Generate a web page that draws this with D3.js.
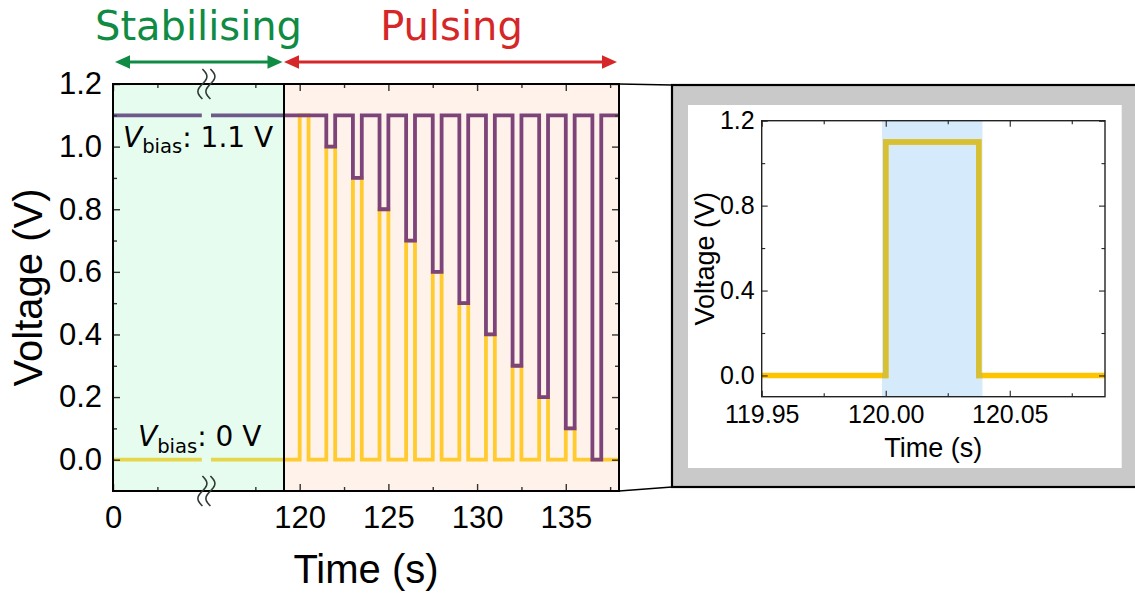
<!DOCTYPE html>
<html><head><meta charset="utf-8">
<script src="https://cdn.jsdelivr.net/npm/d3@7"></script>
<style>body{margin:0;background:#fff} svg{display:block}</style>
</head><body>
<svg id="c" width="1135" height="599"></svg>
<script>
// ---------- data ----------
const pulseStarts = [120.0, 121.5, 123.0, 124.5, 126.0, 127.5, 129.0, 130.5, 132.0, 133.5, 135.0, 136.5];
const pulseAmps   = [1.1, 1.0, 0.9, 0.8, 0.7, 0.6, 0.5, 0.4, 0.3, 0.2, 0.1, 0.0];
const pulseWidth = 0.5;
const biasHigh = 1.1, biasLow = 0.0;
const stabSegments = [[0, 5], [115, 119.115]];
const splitTime = 119.115, endTime = 138;
const xMajorTicks = [0, 120, 125, 130, 135];
const xMinorTicks = [2.5, 117.5, 122.5, 127.5, 132.5, 137.5];
const yMajorTicks = [0, 0.2, 0.4, 0.6, 0.8, 1.0, 1.2];
const yMinorTicks = [0.1, 0.3, 0.5, 0.7, 0.9, 1.1];
// inset
const insetPulse = {start: 120.0, end: 120.0375, amp: 1.1};
const insetSpan = [119.9985, 120.039];
const insetXTicks = [119.95, 120.00, 120.05];
const insetXMinor = [119.975, 120.025, 120.075];
const insetYTicks = [0.0, 0.4, 0.8, 1.2];
const insetYMinor = [0.2, 0.6, 1.0];

// ---------- layout ----------
const svg = d3.select("#c");
const TICKF = "'Liberation Sans', Arial, Helvetica, sans-serif";
const DJV = "'DejaVu Sans', sans-serif";
const x = d3.scaleLinear().domain([0, 5, 115, endTime]).range([113, 201.8, 211, 619]);
const y = d3.scaleLinear().domain([-0.1, 1.2]).range([491, 84]);
const xL = x(0), xS = x(splitTime), xR = x(endTime), yT = y(1.2), yB = y(-0.1);

// backgrounds
svg.append("rect").attr("x", xL).attr("y", yT).attr("width", xS - xL).attr("height", yB - yT).attr("fill", "#e6fcef");
svg.append("rect").attr("x", xS).attr("y", yT).attr("width", xR - xS).attr("height", yB - yT).attr("fill", "#fff2ea");

const line = d3.line().x(d => x(d[0])).y(d => y(d[1])).curve(d3.curveLinear);

// stabilising bias lines (left panel)
stabSegments.forEach(s => {
  svg.append("path").attr("d", line([[s[0], biasLow], [s[1], biasLow]]))
    .attr("stroke", "#e6d64a").attr("stroke-width", 3.8).attr("fill", "none");
  svg.append("path").attr("d", line([[s[0], biasHigh], [s[1], biasHigh]]))
    .attr("stroke", "#6d5a8a").attr("stroke-width", 3.8).attr("fill", "none");
});

// pulsing traces
function trace(base) {
  const pts = [[splitTime, base]];
  pulseStarts.forEach((s, i) => {
    const a = pulseAmps[i];
    pts.push([s, base], [s, a], [s + pulseWidth, a], [s + pulseWidth, base]);
  });
  pts.push([endTime, base]);
  return pts;
}
svg.append("path").attr("d", line(trace(biasLow))).attr("stroke", "#ffcb2f")
  .attr("stroke-width", 3.8).attr("fill", "none").attr("stroke-linejoin", "miter");
svg.append("path").attr("d", line(trace(biasHigh))).attr("stroke", "#7d447a")
  .attr("stroke-width", 3.8).attr("fill", "none").attr("stroke-linejoin", "miter");

// ticks
function noDomain(g) { g.select(".domain").remove(); g.selectAll(".tick line").attr("stroke", "#333").attr("stroke-width", 1.4); }
svg.append("g").attr("transform", `translate(0,${yB})`)
  .call(d3.axisBottom(x).tickValues(xMajorTicks).tickSize(-7).tickPadding(15).tickFormat(d3.format("d")))
  .call(noDomain).call(g => g.selectAll("text").attr("font-size", 31).attr("font-family", TICKF).attr("fill", "#000"));
svg.append("g").attr("transform", `translate(0,${yB})`)
  .call(d3.axisBottom(x).tickValues(xMinorTicks).tickSize(-4).tickFormat(""))
  .call(noDomain);
svg.append("g").attr("transform", `translate(0,${yT})`)
  .call(d3.axisTop(x).tickValues(xMajorTicks).tickSize(-7).tickFormat("")).call(noDomain);
svg.append("g").attr("transform", `translate(0,${yT})`)
  .call(d3.axisTop(x).tickValues(xMinorTicks).tickSize(-4).tickFormat("")).call(noDomain);
svg.append("g").attr("transform", `translate(${xL},0)`)
  .call(d3.axisLeft(y).tickValues(yMajorTicks).tickSize(-7).tickPadding(11).tickFormat(d3.format(".1f")))
  .call(noDomain).call(g => g.selectAll("text").attr("font-size", 31).attr("font-family", TICKF).attr("fill", "#000"));
svg.append("g").attr("transform", `translate(${xL},0)`)
  .call(d3.axisLeft(y).tickValues(yMinorTicks).tickSize(-4).tickFormat("")).call(noDomain);
svg.append("g").attr("transform", `translate(${xR},0)`)
  .call(d3.axisRight(y).tickValues(yMajorTicks).tickSize(-7).tickFormat("")).call(noDomain);
svg.append("g").attr("transform", `translate(${xR},0)`)
  .call(d3.axisRight(y).tickValues(yMinorTicks).tickSize(-4).tickFormat("")).call(noDomain);

// frames
svg.append("rect").attr("x", xL).attr("y", yT).attr("width", xS - xL).attr("height", yB - yT)
  .attr("fill", "none").attr("stroke", "#000").attr("stroke-width", 2);
svg.append("rect").attr("x", xS).attr("y", yT).attr("width", xR - xS).attr("height", yB - yT)
  .attr("fill", "none").attr("stroke", "#000").attr("stroke-width", 2);

// break marks
const gapMid = (x(5) + x(115)) / 2;
function breakMark(cy) {
  [-4, 4].forEach(off => {
    const pts = d3.range(0, 1.0001, 0.05).map(t => [gapMid + off + 4.5 * Math.sin(2 * Math.PI * t), cy - 15 + 30 * t]);
    // white mask between
    svg.append("path").attr("d", d3.line()(pts)).attr("fill", "none")
      .attr("stroke", "#2f3b36").attr("stroke-width", 1.6);
  });
}
breakMark(yT);
breakMark(yB);

// axis labels
svg.append("text").attr("x", (xL + xR) / 2).attr("y", 583).attr("text-anchor", "middle")
  .attr("font-family", TICKF).attr("font-size", 40).text("Time (s)");
svg.append("text").attr("transform", `translate(42,${(yT + yB) / 2}) rotate(-90)`).attr("text-anchor", "middle")
  .attr("font-family", TICKF).attr("font-size", 40).text("Voltage (V)");

// V_bias labels
function biasLabel(px, py, val) {
  const t = svg.append("text").attr("x", px).attr("y", py).attr("font-family", DJV).attr("font-size", 28).attr("fill", "#000");
  t.append("tspan").attr("font-style", "italic").text("V");
  t.append("tspan").attr("font-size", 19.6).attr("dy", 6.5).text("bias");
  t.append("tspan").attr("dy", -6.5).text(": " + val + " V");
}
biasLabel(xL + 10, 146.7, "1.1");
biasLabel(xL + 25, 446, "0");

// phase headings + arrows
function dblArrow(x0, x1, yy, color) {
  const L = 15, H = 6.8;
  svg.append("line").attr("x1", x0 + L - 2).attr("x2", x1 - L + 2).attr("y1", yy).attr("y2", yy)
    .attr("stroke", color).attr("stroke-width", 3);
  svg.append("path").attr("d", `M${x0},${yy} L${x0 + L},${yy - H} L${x0 + L},${yy + H} Z`).attr("fill", color);
  svg.append("path").attr("d", `M${x1},${yy} L${x1 - L},${yy - H} L${x1 - L},${yy + H} Z`).attr("fill", color);
}
dblArrow(xL + 2, xS - 1.5, 62, "#0f8b44");
dblArrow(xS + 0, xR - 2, 62, "#d62728");
svg.append("text").attr("x", (xL + xS) / 2).attr("y", 40).attr("text-anchor", "middle")
  .attr("font-family", DJV).attr("font-size", 40).attr("fill", "#0f8b44").text("Stabilising");
svg.append("text").attr("x", (xS + xR) / 2).attr("y", 40).attr("text-anchor", "middle")
  .attr("font-family", DJV).attr("font-size", 40).attr("fill", "#d62728").text("Pulsing");

// ---------- inset ----------
const boxL = 672, boxT = 85, boxB = 487;
svg.append("line").attr("x1", xR).attr("y1", yT).attr("x2", boxL).attr("y2", boxT).attr("stroke", "#000").attr("stroke-width", 1.5);
svg.append("line").attr("x1", xR).attr("y1", yB).attr("x2", boxL).attr("y2", boxB).attr("stroke", "#000").attr("stroke-width", 1.5);
svg.append("rect").attr("x", boxL).attr("y", boxT).attr("width", 500).attr("height", boxB - boxT)
  .attr("fill", "#c9c9c9").attr("stroke", "#000").attr("stroke-width", 2.2);
svg.append("rect").attr("x", 688).attr("y", 105).attr("width", 1121.7 - 688).attr("height", 468 - 105).attr("fill", "#fff");

const xi = d3.scaleLinear().domain([119.95, 120.0884]).range([761.7, 1105]);
const yi = d3.scaleLinear().domain([-0.1, 1.2]).range([396.7, 120.7]);
const xiL = xi.range()[0], xiR = xi.range()[1], yiT = yi.range()[1], yiB = yi.range()[0];

svg.append("rect").attr("x", xi(insetSpan[0])).attr("y", yiT).attr("width", xi(insetSpan[1]) - xi(insetSpan[0]))
  .attr("height", yiB - yiT).attr("fill", "#d5eafb");
svg.append("clipPath").attr("id", "spanclip").append("rect")
  .attr("x", xi(insetSpan[0])).attr("y", yiT).attr("width", xi(insetSpan[1]) - xi(insetSpan[0])).attr("height", yiB - yiT);
svg.append("clipPath").attr("id", "iclip").append("rect")
  .attr("x", xiL).attr("y", yiT).attr("width", xiR - xiL).attr("height", yiB - yiT);
const iline = d3.line().x(d => xi(d[0])).y(d => yi(d[1]));
const ipts = [[xi.domain()[0], 0], [insetPulse.start, 0], [insetPulse.start, insetPulse.amp],
  [insetPulse.end, insetPulse.amp], [insetPulse.end, 0], [xi.domain()[1], 0]];
svg.append("path").attr("d", iline(ipts)).attr("fill", "none").attr("stroke", "#ffc400")
  .attr("stroke-width", 5.5).attr("clip-path", "url(#iclip)");
svg.append("path").attr("d", iline(ipts)).attr("fill", "none").attr("stroke", "#d8c035")
  .attr("stroke-width", 5.5).attr("clip-path", "url(#spanclip)");

function noDomainI(g) { g.select(".domain").remove(); g.selectAll(".tick line").attr("stroke", "#222").attr("stroke-width", 1.1); }
svg.append("g").attr("transform", `translate(0,${yiB})`)
  .call(d3.axisBottom(xi).tickValues(insetXTicks).tickSize(-6).tickPadding(9).tickFormat(d3.format(".2f")))
  .call(noDomainI).call(g => g.selectAll("text").attr("font-size", 25).attr("font-family", TICKF).attr("fill", "#000"));
svg.append("g").attr("transform", `translate(0,${yiB})`)
  .call(d3.axisBottom(xi).tickValues(insetXMinor).tickSize(-3.5).tickFormat("")).call(noDomainI);
svg.append("g").attr("transform", `translate(0,${yiT})`)
  .call(d3.axisTop(xi).tickValues(insetXTicks).tickSize(-6).tickFormat("")).call(noDomainI);
svg.append("g").attr("transform", `translate(0,${yiT})`)
  .call(d3.axisTop(xi).tickValues(insetXMinor).tickSize(-3.5).tickFormat("")).call(noDomainI);
svg.append("g").attr("transform", `translate(${xiL},0)`)
  .call(d3.axisLeft(yi).tickValues(insetYTicks).tickSize(-6).tickPadding(7).tickFormat(d3.format(".1f")))
  .call(noDomainI).call(g => g.selectAll("text").attr("font-size", 25).attr("font-family", TICKF).attr("fill", "#000"));
svg.append("g").attr("transform", `translate(${xiL},0)`)
  .call(d3.axisLeft(yi).tickValues(insetYMinor).tickSize(-3.5).tickFormat("")).call(noDomainI);
svg.append("g").attr("transform", `translate(${xiR},0)`)
  .call(d3.axisRight(yi).tickValues(insetYTicks).tickSize(-6).tickFormat("")).call(noDomainI);
svg.append("g").attr("transform", `translate(${xiR},0)`)
  .call(d3.axisRight(yi).tickValues(insetYMinor).tickSize(-3.5).tickFormat("")).call(noDomainI);
svg.append("rect").attr("x", xiL).attr("y", yiT).attr("width", xiR - xiL).attr("height", yiB - yiT)
  .attr("fill", "none").attr("stroke", "#222").attr("stroke-width", 1.4);

svg.append("text").attr("x", (xiL + xiR) / 2).attr("y", 457).attr("text-anchor", "middle")
  .attr("font-family", TICKF).attr("font-size", 27).text("Time (s)");
svg.append("text").attr("transform", `translate(714,${(yiT + yiB) / 2}) rotate(-90)`).attr("text-anchor", "middle")
  .attr("font-family", TICKF).attr("font-size", 27).text("Voltage (V)");
</script>
</body></html>
